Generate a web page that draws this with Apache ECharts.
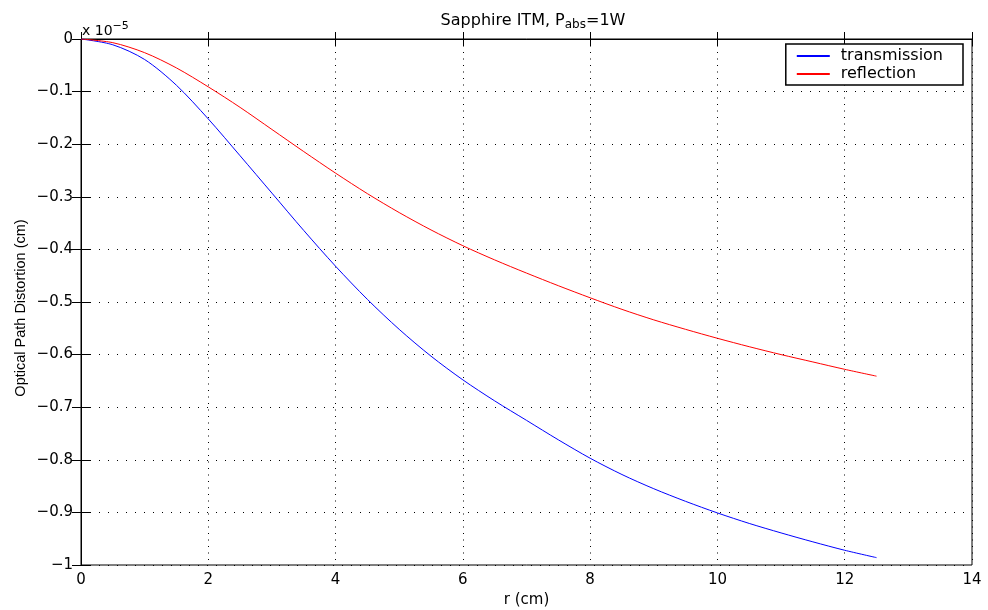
<!DOCTYPE html>
<html>
<head>
<meta charset="utf-8">
<script src="https://cdn.jsdelivr.net/npm/echarts@6/dist/echarts.min.js"></script>
<style>html,body{margin:0;padding:0;background:#fff}#c{width:988px;height:610px}</style>
</head>
<body>
<div id="c"></div>
<script>
const r = [0,0.5,1,1.5,2,2.5,3,3.5,4,4.5,5,5.5,6,6.5,7,7.5,8,8.5,9,9.5,10,10.5,11,11.5,12,12.5];
const transmission = [0,-0.011,-0.039,-0.088,-0.152,-0.222,-0.293,-0.364,-0.432,-0.495,-0.552,-0.603,-0.648,-0.688,-0.725,-0.762,-0.797,-0.828,-0.855,-0.879,-0.901,-0.921,-0.939,-0.956,-0.972,-0.986];
const reflection = [0,-0.007,-0.026,-0.055,-0.091,-0.130,-0.172,-0.214,-0.255,-0.294,-0.330,-0.363,-0.393,-0.420,-0.445,-0.469,-0.492,-0.514,-0.534,-0.552,-0.569,-0.585,-0.600,-0.614,-0.628,-0.641];
const seriesNames = ['transmission','reflection'];
const xTicks = [0,2,4,6,8,10,12,14];
const yTicks = [0,-0.1,-0.2,-0.3,-0.4,-0.5,-0.6,-0.7,-0.8,-0.9,-1];

const FONT = '"DejaVu Sans", sans-serif';
const chart = echarts.init(document.getElementById('c'), null, {renderer:'canvas'});
const fmtY = v => { if (Math.abs(v) < 1e-9) return '0'; let s = (Math.round(v*10)/10).toString(); return s.replace('-', '\u2212'); };
const vGrid = {show:true, lineStyle:{color:'#000', type:[1,5.5], width:1}};
const hGrid = {show:true, lineStyle:{color:'#000', type:[1,8], width:1}};
const axisLine = {show:true, lineStyle:{color:'#000', width:1}};
chart.setOption({
  animation:false,
  backgroundColor:'#fff',
  title:{
    text:'Sapphire ITM, P{sub|abs}=1W', left:528, top:5, textAlign:'center',
    textStyle:{fontFamily:FONT, fontSize:16, fontWeight:'normal', color:'#000',
      rich:{sub:{fontFamily:FONT, fontSize:12, color:'#000', verticalAlign:'bottom', padding:[9,0,0,0]}}}
  },
  graphic:[{
    type:'text', left:82, top:21,
    style:{text:'x 10{sup|\u22125}', fontFamily:FONT, fontSize:14, fill:'#000',
      rich:{sup:{fontFamily:FONT, fontSize:11, fill:'#000', verticalAlign:'top', padding:[0,0,9,0]}}}
  },{
    type:'text', x:21, y:308, rotation:Math.PI/2,
    style:{text:'Optical Path Distortion (cm)', fontFamily:'"Liberation Sans", Arial, sans-serif', fontSize:14.5, fill:'#000', align:'center', verticalAlign:'middle'}
  }],
  legend:{
    data:seriesNames, orient:'vertical', right:25, top:44,
    backgroundColor:'#fff', borderColor:'#000', borderWidth:1.5, padding:[4,20,3,11],
    itemWidth:33, itemHeight:2, itemGap:2, icon:'rect',
    textStyle:{fontFamily:FONT, fontSize:16, lineHeight:15, color:'#000', padding:[0,0,0,6]}
  },
  grid:{left:81, right:16, top:39, bottom:45, show:true, borderColor:'#000', borderWidth:1, containLabel:false, outerBoundsMode:'none'},
  xAxis:[{
    type:'value', min:0, max:14, interval:2, position:'bottom',
    name:'r (cm)', nameLocation:'middle', nameGap:25,
    nameTextStyle:{fontFamily:FONT, fontSize:15, color:'#000'},
    axisLabel:{fontFamily:FONT, fontSize:15, color:'#000', margin:8},
    splitLine:vGrid, axisLine:axisLine,
    axisTick:{show:true, inside:true, length:7, lineStyle:{color:'#000'}}
  },{
    type:'value', min:0, max:14, interval:2, position:'top',
    axisLabel:{show:false}, splitLine:{show:false}, axisLine:axisLine,
    axisTick:{show:true, inside:true, length:7, lineStyle:{color:'#000'}}
  }],
  yAxis:[{
    type:'value', min:-1, max:0, interval:0.1, position:'left',
    axisLabel:{fontFamily:FONT, fontSize:15, color:'#000', margin:8, formatter:fmtY},
    splitLine:hGrid, axisLine:axisLine,
    axisTick:{show:true, inside:true, length:10, lineStyle:{color:'#000'}}
  },{
    type:'value', min:-1, max:0, interval:0.1, position:'right',
    axisLabel:{show:false}, splitLine:{show:false}, axisLine:axisLine,
    axisTick:{show:true, inside:true, length:9, lineStyle:{color:'#000'}}
  }],
  series:[
    {name:seriesNames[0], type:'line', data:r.map((x,i)=>[x,transmission[i]]), smooth:0.3, showSymbol:false, symbol:'none',
     lineStyle:{color:'#0000ff', width:1}, itemStyle:{color:'#0000ff'}},
    {name:seriesNames[1], type:'line', data:r.map((x,i)=>[x,reflection[i]]), smooth:0.3, showSymbol:false, symbol:'none',
     lineStyle:{color:'#ff0000', width:1}, itemStyle:{color:'#ff0000'}}
  ]
});
</script>
</body>
</html>
